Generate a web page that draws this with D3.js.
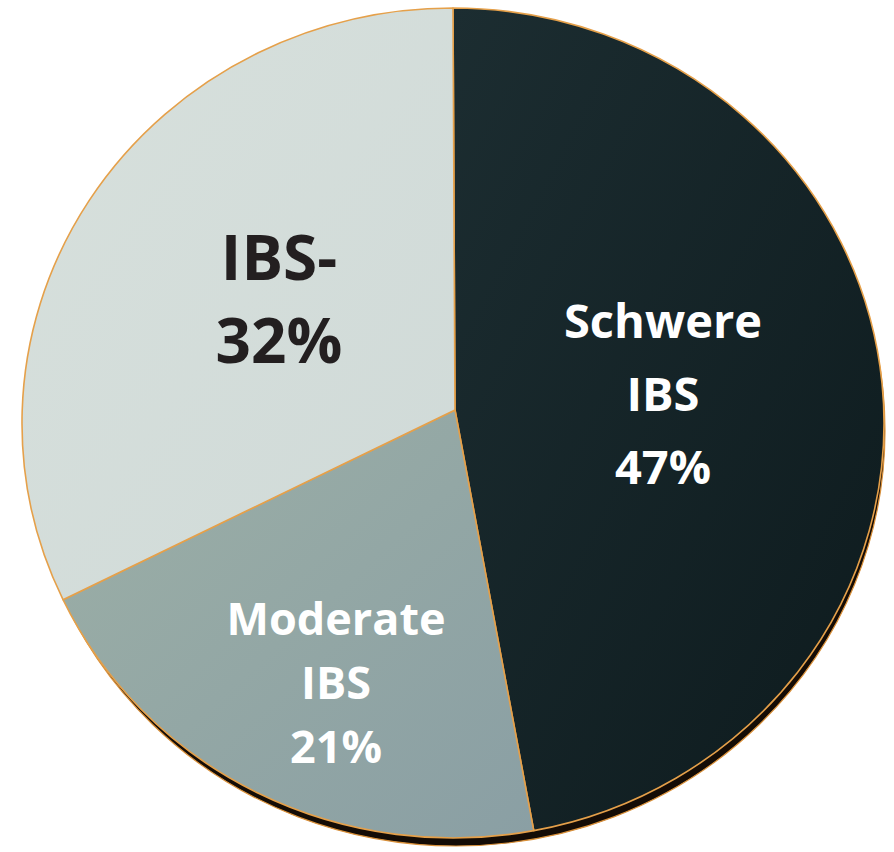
<!DOCTYPE html>
<html>
<head>
<meta charset="utf-8">
<script src="https://cdn.jsdelivr.net/npm/d3@7"></script>
<style>
  html, body { margin: 0; padding: 0; background: #fff; }
  svg { display: block; }
</style>
</head>
<body>
<div id="vis"></div>
<script>
// frame
const FRAME_WIDTH = 894;
const FRAME_HEIGHT = 852;

// data
const CATEGORIES = ["Schwere IBS", "Moderate IBS", "IBS-"];
const VALUES = [47, 21, 32];
const LABEL_LINES = [["Schwere", "IBS", "47%"], ["Moderate", "IBS", "21%"], ["IBS-", "32%"]];

// layout of the (slightly tilted) pie
const CX = 453, CY = 423, RX = 431, RY = 415;
const VERTEX = { x: 455, y: 410 };
const LABEL_POS = [
    { x: 663, y: 338, size: 47, gap: 73, fill: "#ffffff" },
    { x: 336, y: 635, size: 45, gap: 64, fill: "#ffffff" },
    { x: 279, y: 280, size: 62, gap: 83, fill: "#231f20" }
];

const FRAME = d3.select("#vis")
    .append("svg")
    .attr("width", FRAME_WIDTH)
    .attr("height", FRAME_HEIGHT);

const defs = FRAME.append("defs");
const GRADS = [
    ["g0", "#1c2d31", "#0d1a1d"],
    ["g1", "#9cafa6", "#8a9fa4"],
    ["g2", "#d7e0dc", "#d0dad8"]
];
GRADS.forEach(g => {
    const lg = defs.append("linearGradient").attr("id", g[0])
        .attr("x1", "0%").attr("y1", "0%").attr("x2", "100%").attr("y2", "100%");
    lg.append("stop").attr("offset", "0%").attr("stop-color", g[1]);
    lg.append("stop").attr("offset", "100%").attr("stop-color", g[2]);
});

const pie = d3.pie().sort(null).value(d => d)(VALUES);

// point on the ellipse rim for a pie angle
function rim(a) {
    return [CX + RX * Math.sin(a), CY - RY * Math.cos(a)];
}

function slicePath(d) {
    const p0 = rim(d.startAngle);
    const p1 = rim(d.endAngle);
    const large = (d.endAngle - d.startAngle) > Math.PI ? 1 : 0;
    return `M${VERTEX.x},${VERTEX.y}L${p0[0]},${p0[1]}A${RX},${RY} 0 ${large} 1 ${p1[0]},${p1[1]}Z`;
}

// dark rim / depth below the face
FRAME.append("ellipse")
    .attr("cx", CX + 3)
    .attr("cy", CY + 8)
    .attr("rx", RX - 2)
    .attr("ry", RY)
    .attr("fill", "#140c06")
    .attr("stroke", "#d9903a")
    .attr("stroke-width", 1.2);

FRAME.selectAll(".slice")
    .data(pie)
    .enter()
    .append("path")
    .attr("class", "slice")
    .attr("d", slicePath)
    .attr("fill", (d, i) => "url(#g" + i + ")")
    .attr("stroke", "#e5a04a")
    .attr("stroke-width", 1.6)
    .attr("stroke-linejoin", "round");

// labels
pie.forEach((d, i) => {
    const pos = LABEL_POS[i];
    const t = FRAME.append("text")
        .attr("text-anchor", "middle")
        .attr("font-family", "'Open Sans', sans-serif")
        .attr("font-weight", "bold")
        .attr("font-size", pos.size)
        .attr("fill", pos.fill);
    LABEL_LINES[i].forEach((line, j) => {
        t.append("tspan")
            .attr("x", pos.x)
            .attr("y", pos.y + j * pos.gap)
            .text(line);
    });
});
</script>
</body>
</html>
